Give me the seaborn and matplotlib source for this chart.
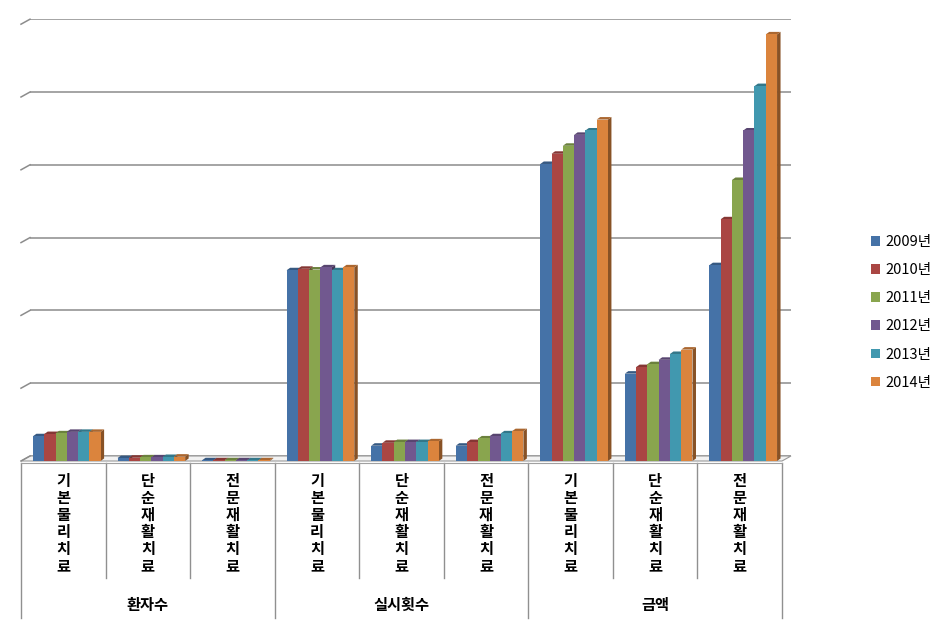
import numpy as np
import pandas as pd
import matplotlib
matplotlib.use("Agg")
import matplotlib.pyplot as plt
import matplotlib.transforms as mtransforms
from matplotlib.patches import Polygon, Patch
from matplotlib.lines import Line2D
from matplotlib.colors import to_rgb
import seaborn as sns

# ---------------- data ----------------
groups = ["환자수", "실시횟수", "금액"]
treatments = ["기본물리치료", "단순재활치료", "전문재활치료"]
years = ["2009년", "2010년", "2011년", "2012년", "2013년", "2014년"]

# values in gridline units (axis 0..6), order: group x treatment
v2009 = [0.34, 0.04, 0.01, 2.62, 0.21, 0.21, 4.08, 1.20, 2.69]
v2010 = [0.37, 0.045, 0.01, 2.64, 0.25, 0.26, 4.22, 1.29, 3.32]
v2011 = [0.38, 0.05, 0.01, 2.63, 0.26, 0.31, 4.33, 1.33, 3.86]
v2012 = [0.40, 0.05, 0.01, 2.66, 0.26, 0.34, 4.48, 1.39, 4.54]
v2013 = [0.40, 0.055, 0.01, 2.62, 0.26, 0.38, 4.54, 1.47, 5.15]
v2014 = [0.40, 0.06, 0.01, 2.66, 0.27, 0.41, 4.69, 1.53, 5.86]
series = [v2009, v2010, v2011, v2012, v2013, v2014]

colors = ["#4572A7", "#AA4643", "#89A54E", "#71588F", "#4198AF", "#DB843D"]

cat_keys = [f"{g}|{t}" for g in groups for t in treatments]
rows = []
for yr, vals in zip(years, series):
    for k, v in zip(cat_keys, vals):
        rows.append({"cat": k, "year": yr, "value": v})
df = pd.DataFrame(rows)

# ---------------- figure ----------------
W, H = 949, 627
fig = plt.figure(figsize=(W / 100, H / 100), dpi=100)
plt.rcParams["font.family"] = ["Noto Sans CJK KR", "DejaVu Sans"]

def fx(px):
    return px / W

def fy(py):
    return 1 - py / H

unit = 72.8      # px per gridline unit
ymax = 6
front_l, front_r, front_b = 21, 782, 461
back_dx, back_dy = 9, 5

# back wall axes (gridlines)
ax_back = fig.add_axes([fx(front_l + back_dx), fy(front_b - back_dy),
                        fx(front_r - front_l), (ymax * unit) / H])
ax_back.set_xlim(0, 1)
ax_back.set_ylim(0, ymax)
for v in range(0, ymax + 1):
    ax_back.axhline(v, color="#8c8c8c", lw=1.1, zorder=1)
ax_back.axis("off")

# front axes (bars)
ax = fig.add_axes([fx(front_l), fy(front_b), fx(front_r - front_l), (ymax * unit) / H])
ax.set_zorder(ax_back.get_zorder() + 1)
ax.patch.set_alpha(0)

sns.barplot(data=df, x="cat", y="value", hue="year", order=cat_keys,
            hue_order=years, palette=colors, saturation=1, width=0.8,
            ax=ax, legend=False, errorbar=None, zorder=3, linewidth=0)
px_per_x = (front_r - front_l) / len(cat_keys)
shift = 3.5 / px_per_x
ax.set_xlim(-0.5 - shift, len(cat_keys) - 0.5 - shift)
ax.set_ylim(0, ymax)
ax.axis("off")

# slanted connectors on the left of the gridlines
for v in range(0, ymax + 1):
    yb = front_b - back_dy - v * unit
    fig.add_artist(Line2D([fx(front_l + back_dx), fx(front_l)],
                          [fy(yb), fy(yb + back_dy)], color="#8c8c8c", lw=1.1))
# floor
floor = Polygon([(fx(front_l), fy(front_b)), (fx(front_l + back_dx), fy(front_b - back_dy)),
                 (fx(front_r + back_dx), fy(front_b - back_dy)), (fx(front_r), fy(front_b))],
                closed=True, facecolor="#f2f2f2", edgecolor="#9a9a9a", lw=0.8,
                transform=fig.transFigure, zorder=0.5)
fig.add_artist(floor)
fig.add_artist(Line2D([fx(front_l), fx(front_r)], [fy(front_b + 1.5)] * 2,
                      color="#a0a0a0", lw=0.8))

# 3D caps and sides for bars
ddx = 3.5 / px_per_x
ddy = 2.5 / unit
def shade(c, f):
    r, g, b = to_rgb(c)
    return (r * f, g * f, b * f)

for ci, cont in enumerate(ax.containers):
    col = colors[ci]
    for p in cont.patches:
        x0, w, h = p.get_x(), p.get_width(), p.get_height()
        side = Polygon([(x0 + w, 0), (x0 + w + ddx, ddy), (x0 + w + ddx, h + ddy), (x0 + w, h)],
                       closed=True, facecolor=shade(col, 0.62), edgecolor="none", zorder=2)
        top = Polygon([(x0, h), (x0 + ddx, h + ddy), (x0 + w + ddx, h + ddy), (x0 + w, h)],
                      closed=True, facecolor=shade(col, 0.78), edgecolor="none", zorder=2)
        ax.add_patch(side)
        ax.add_patch(top)

# ---------------- category labels ----------------
blend = mtransforms.blended_transform_factory(ax.transData, fig.transFigure)
for i, key in enumerate(cat_keys):
    label = key.split("|")[1]
    for k, ch in enumerate(label):
        ax.text(i - shift, fy(481 + 17 * k), ch, transform=blend, ha="center", va="center",
                fontsize=11, fontweight="bold", color="black", clip_on=False)

for gi, g in enumerate(groups):
    ax.text(gi * 3 + 1 - shift, fy(605), g, transform=blend, ha="center", va="center",
            fontsize=11, fontweight="bold", color="black", clip_on=False)

for i in range(len(cat_keys) + 1):
    x = i - 0.5 - shift
    y_end = 618 if i % 3 == 0 else 578
    ax.add_line(Line2D([x, x], [fy(front_b + 1.5), fy(y_end)], transform=blend,
                       color="#909090", lw=1.0, clip_on=False))

# ---------------- legend ----------------
handles = [Patch(facecolor=c, edgecolor="none") for c in colors]
fig.legend(handles, years, loc="upper left", bbox_to_anchor=(fx(871), fy(235)),
           frameon=False, fontsize=10.5, handlelength=0.65, handleheight=0.65,
           handletextpad=0.35, labelspacing=0.97, borderpad=0, borderaxespad=0)

fig.savefig("out.png", dpi=100)
